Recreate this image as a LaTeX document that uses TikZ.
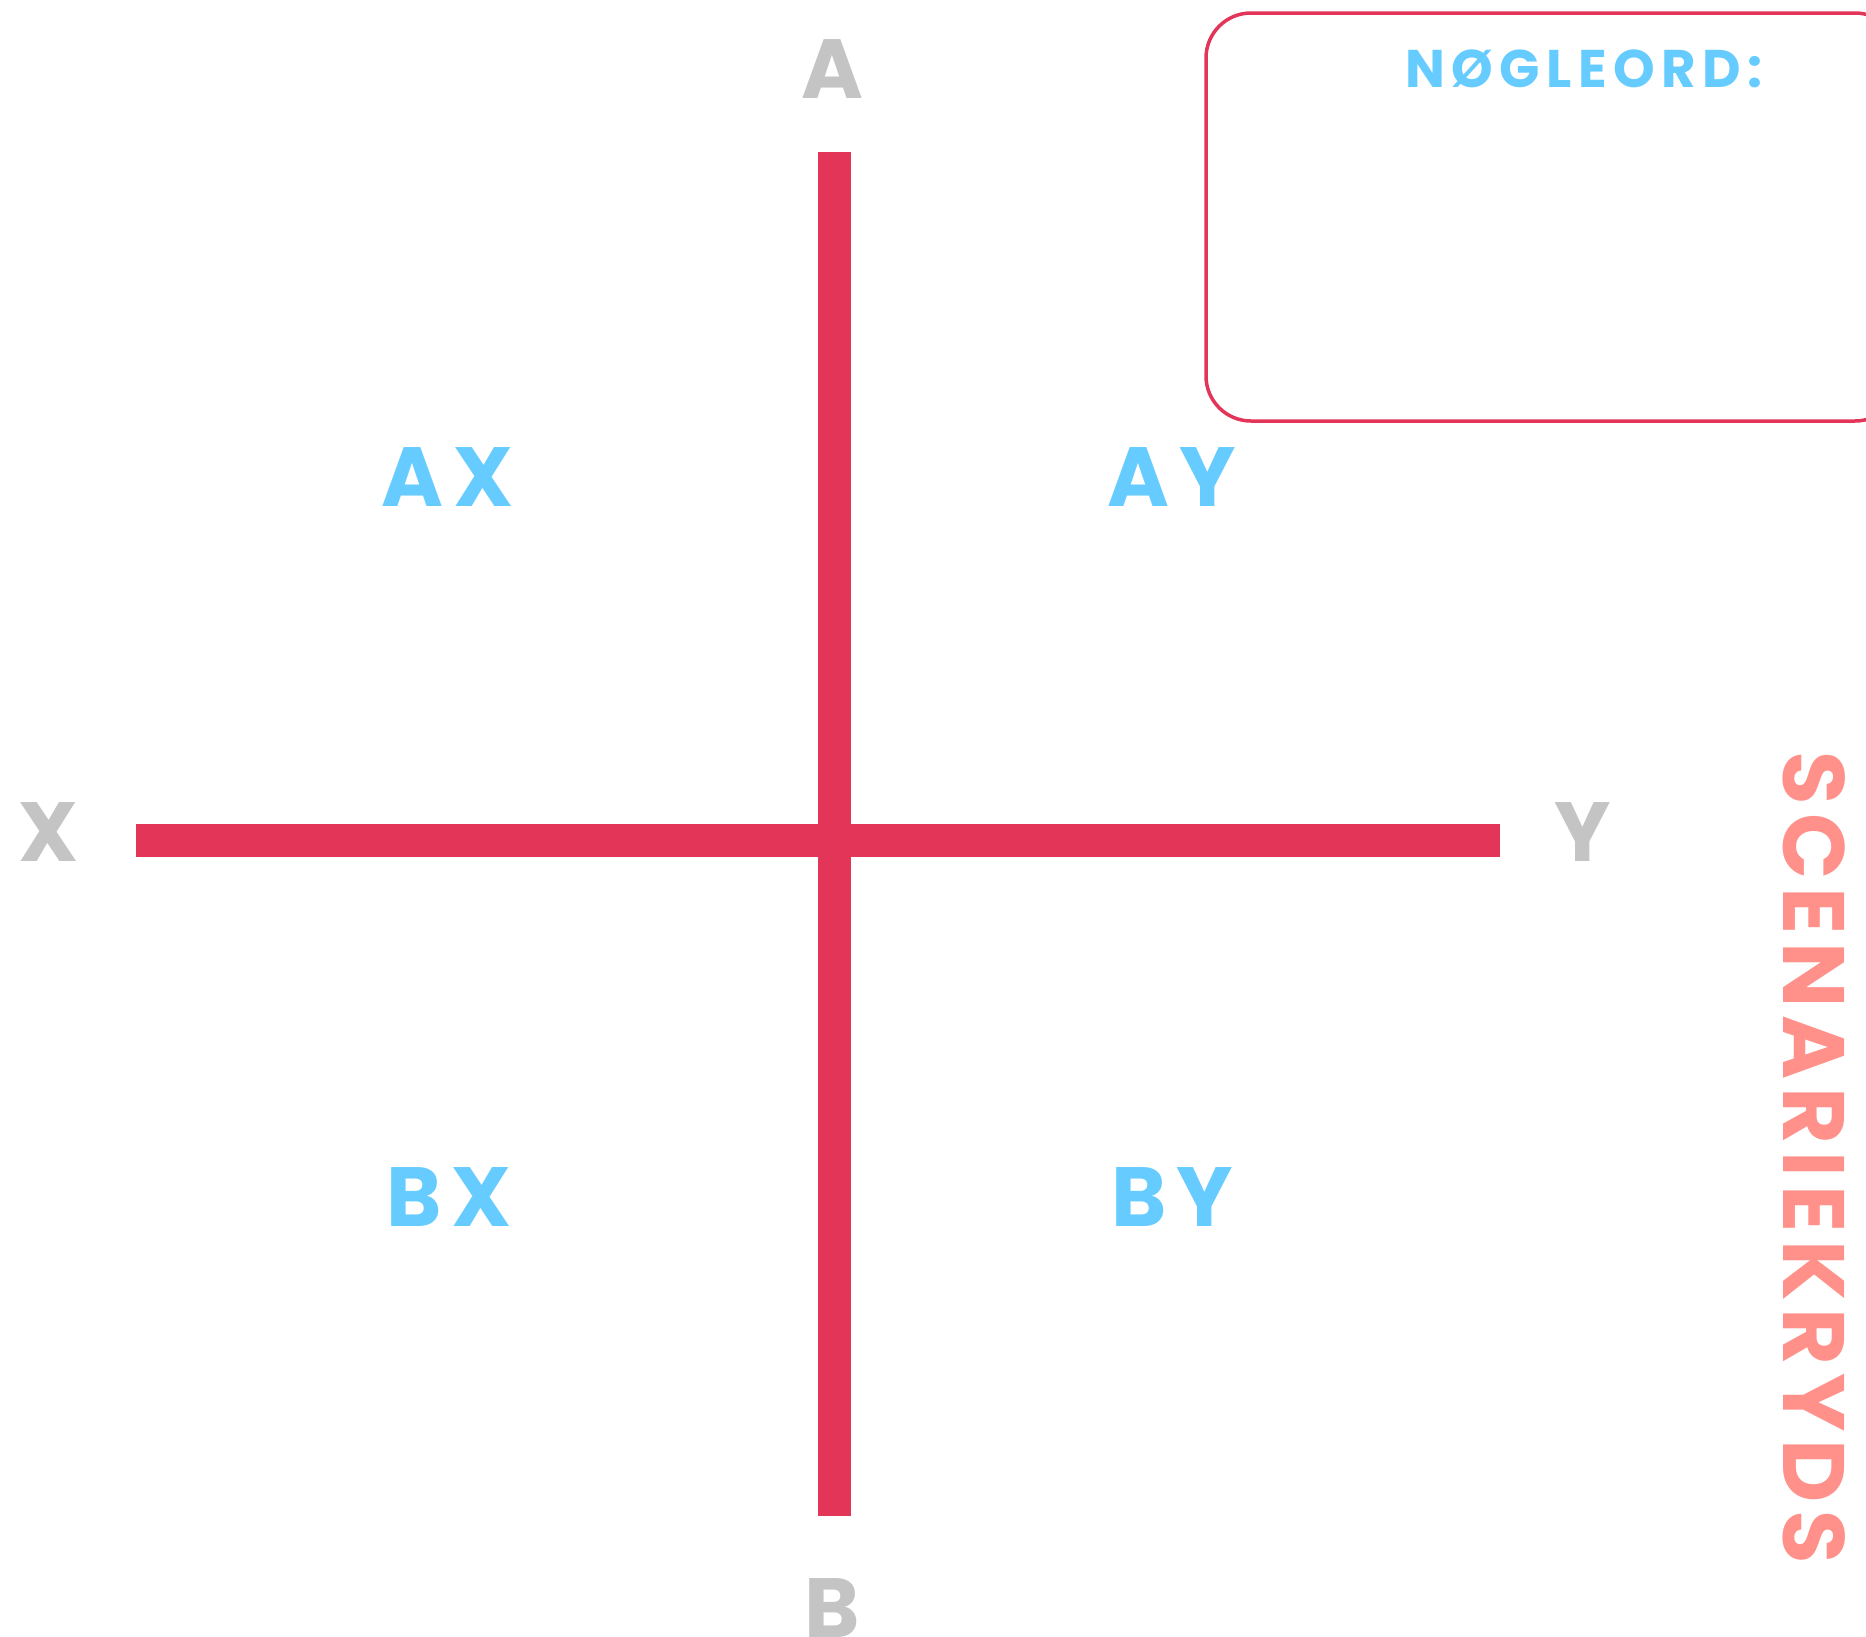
\documentclass[tikz,border=0pt]{standalone}
\usepackage{fontspec}
\newfontfamily\lbl{Poppins}[LetterSpace=12]
\newfontfamily\sidelbl{Poppins}[LetterSpace=9]
\definecolor{axisred}{HTML}{E23558}
\definecolor{lblblue}{HTML}{66CCFF}
\definecolor{lblgray}{HTML}{C4C4C4}
\definecolor{titlesalmon}{HTML}{FF918A}
\tikzset{
  axisbar/.style={draw=axisred, line width=33pt, line cap=butt},
  polelabel/.style={text=lblgray, font=\lbl\fontsize{84}{84}\selectfont\bfseries, inner sep=0pt, text depth=0pt},
  quadlabel/.style={text=lblblue, font=\lbl\fontsize{84}{84}\selectfont\bfseries, inner sep=0pt, text depth=0pt},
  keybox/.style={draw=axisred, line width=3.5pt, rounded corners=45pt},
  keytitle/.style={text=lblblue, font=\lbl\fontsize{53}{53}\selectfont\bfseries, inner sep=0pt, text depth=0pt},
  sidetitle/.style={text=titlesalmon, font=\sidelbl\fontsize{87}{87}\selectfont\bfseries, inner sep=0pt, text depth=0pt, rotate=-90}
}
\begin{document}
\begin{tikzpicture}[x=1pt, y=-1pt]
\useasboundingbox (0,0) rectangle (1866,1636);
% axes
\coordinate (top) at (834,152);
\coordinate (bottom) at (834,1516);
\coordinate (left) at (136,840);
\coordinate (right) at (1500,840);
\draw[axisbar] (top) -- (bottom);
\draw[axisbar] (left) -- (right);
% pole labels
\node[polelabel] (A) at (832,69) {A};
\node[polelabel] (B) at (832,1608) {B};
\node[polelabel] (X) at (49,832) {X};
\node[polelabel] (Y) at (1583,832) {Y};
% quadrant labels
\node[quadlabel] (AX) at (448,477) {AX};
\node[quadlabel] (AY) at (1172,477) {AY};
\node[quadlabel] (BX) at (449,1197) {BX};
\node[quadlabel] (BY) at (1172,1197) {BY};
% keyword box
\draw[keybox] (1206,13) rectangle (1900,421);
\node[keytitle] (kw) at (1584,69) {NØGLEORD:};
% side title
\node[sidetitle] (title) at (1814,1158) {SCENARIEKRYDS};
\end{tikzpicture}
\end{document}
